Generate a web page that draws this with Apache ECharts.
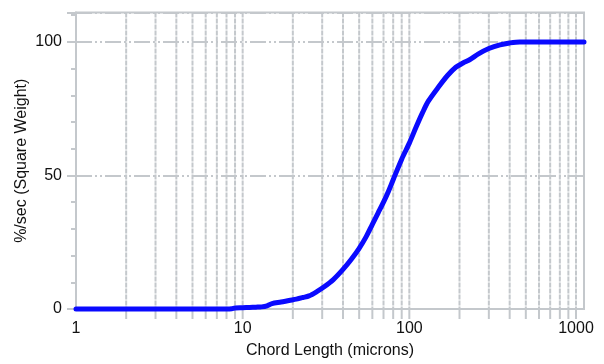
<!DOCTYPE html>
<html>
<head>
<meta charset="utf-8">
<script src="https://cdn.jsdelivr.net/npm/echarts@6/dist/echarts.min.js"></script>
<style>
html,body{margin:0;padding:0;background:#fff;}
#c{width:604px;height:364px;}
</style>
</head>
<body>
<div id="c"></div>
<script>
// Chord length (microns) and cumulative %/sec (Square Weight)
const chordLength = [1, 2, 3, 5, 8, 8.6, 9, 10, 11, 12, 13, 14, 15, 17, 19, 21, 23, 25, 28, 31, 35, 40, 45, 50, 55, 60, 65, 70, 75, 80, 90, 100, 110, 120, 130, 150, 170, 190, 210, 230, 260, 300, 350, 400, 460, 600, 800, 1000, 1117];
const percentSec  = [0, 0, 0, 0, 0, 0.1, 0.4, 0.5, 0.6, 0.7, 0.8, 1.2, 2.0, 2.6, 3.2, 3.7, 4.3, 4.9, 6.6, 8.4, 11.0, 14.8, 18.7, 22.7, 27.0, 31.7, 36.0, 40.0, 44.1, 48.4, 56.1, 62.1, 68.2, 73.5, 77.8, 83.2, 87.5, 90.5, 92.1, 93.3, 95.5, 97.5, 98.9, 99.6, 100, 100, 100, 100, 100];
// Vertical grid / tick positions on the log axis
const gridValues = [2,3,4,5,6,7,8,9,10,20,30,40,50,60,70,80,90,100,200,300,400,500,600,700,800,900,1000];
const xTickLabels = ['1', '10', '100', '1000'];
const yTickLabels = ['0', '50', '100'];

const X_MIN = 1, X_MAX = 1117, Y_MIN = 0, Y_MAX = 111;
const gridColor = '#c4c8cc';
const font = 'Liberation Sans, Arial, Helvetica, sans-serif';

const chart = echarts.init(document.getElementById('c'), null, {renderer: 'canvas'});
chart.setOption({
  animation: false,
  backgroundColor: '#fff',
  grid: {left: 76, right: 20, top: 12.5, bottom: 54, show: true, borderColor: gridColor, borderWidth: 2, backgroundColor: 'transparent'},
  xAxis: {
    type: 'log', logBase: 10, min: X_MIN, max: X_MAX,
    name: 'Chord Length (microns)', nameLocation: 'middle', nameGap: 34,
    nameTextStyle: {fontFamily: font, fontSize: 16, color: '#111'},
    axisLine: {show: true, lineStyle: {color: gridColor, width: 2}},
    axisTick: {show: false},
    splitLine: {show: false},
    axisLabel: {
      fontFamily: font, fontSize: 16, color: '#111', margin: 12,
      formatter: function (v) { const s = String(Math.round(v)); return xTickLabels.indexOf(s) >= 0 ? s : ''; }
    }
  },
  yAxis: {
    type: 'value', min: Y_MIN, max: Y_MAX, interval: 50,
    name: '%/sec (Square Weight)', nameLocation: 'middle', nameGap: 46, nameMoveOverlap: false,
    nameTextStyle: {fontFamily: font, fontSize: 16, color: '#111'},
    axisLine: {show: true, lineStyle: {color: gridColor, width: 2}},
    axisTick: {show: true, inside: false, length: 9, lineStyle: {color: gridColor, width: 2}},
    minorTick: {show: true, splitNumber: 5, length: 5, lineStyle: {color: gridColor, width: 2}},
    splitLine: {show: true, lineStyle: {color: gridColor, width: 2, type: [16, 3, 2, 3, 2, 3]}},
    axisLabel: {
      fontFamily: font, fontSize: 16, color: '#111', margin: 14,
      formatter: function (v) { const s = String(Math.round(v)); return yTickLabels.indexOf(s) >= 0 ? s : ''; }
    }
  },
  series: [
    {
      type: 'custom', silent: true, clip: false, z: 1,
      data: gridValues.map(v => [v, 0]),
      encode: {x: 0, y: 1},
      renderItem: function (params, api) {
        const x = api.value(0);
        const top = api.coord([x, Y_MAX]);
        const bot = api.coord([x, Y_MIN]);
        return {
          type: 'group',
          children: [
            {type: 'line', shape: {x1: top[0], y1: top[1], x2: bot[0], y2: bot[1]},
             style: {stroke: gridColor, lineWidth: 2, lineDash: [5, 1]}},
            {type: 'line', shape: {x1: bot[0], y1: bot[1], x2: bot[0], y2: bot[1] + 10},
             style: {stroke: gridColor, lineWidth: 2}}
          ]
        };
      }
    },
    {
      type: 'line', z: 5,
      data: chordLength.map((x, i) => [x, percentSec[i]]),
      showSymbol: false, symbol: 'none', smooth: 0.3,
      lineStyle: {color: '#0a0aff', width: 5, cap: 'round', join: 'round'},
      clip: false
    }
  ]
});
</script>
</body>
</html>
